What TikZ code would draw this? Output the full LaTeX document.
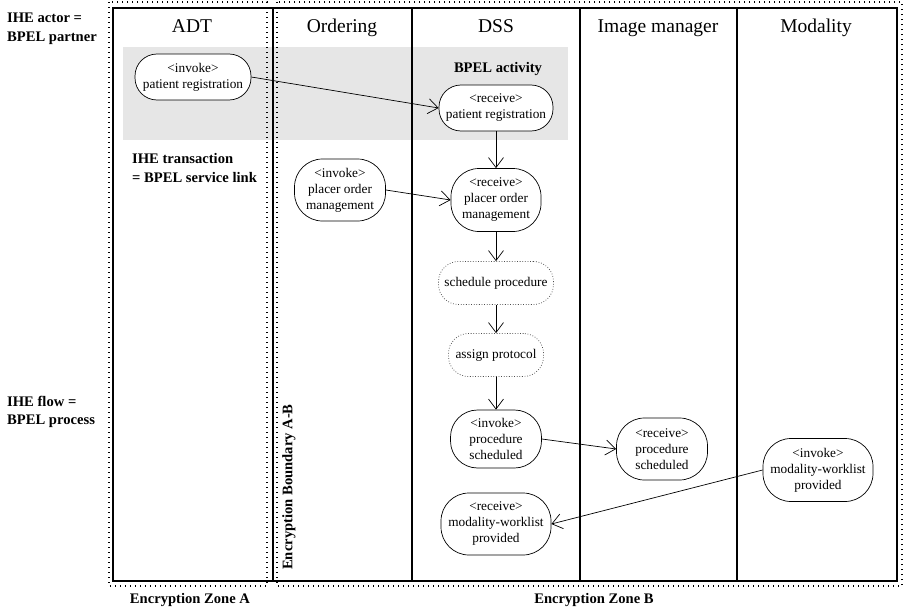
\documentclass[tikz,border=0pt]{standalone}
\usepackage{fontspec}
\setmainfont{Liberation Serif}
\usetikzlibrary{arrows.meta}
\definecolor{bandgray}{RGB}{230,230,230}
\tikzset{
  lane/.style={line width=1.2pt},
  zone/.style={line width=1.1pt, dash pattern=on 1.1pt off 3.9pt},
  lanetitle/.style={font=\fontsize{19.5}{22}\selectfont, anchor=base, inner sep=0pt},
  boldlabel/.style={font=\bfseries\fontsize{14.6}{18.5}\selectfont, align=left, inner sep=0pt},
  actnode/.style={draw, line width=0.7pt, fill=white, align=center, inner sep=0pt,
    font=\fontsize{13.3}{16}\selectfont},
  dotnode/.style={actnode, dash pattern=on 0.8pt off 1.8pt, draw=black!70},
  arr/.style={line width=0.7pt, -{Straight Barb[length=10pt,width=15pt,line width=0.7pt]}}
}
\begin{document}
\begin{tikzpicture}[x=1pt,y=-1pt]
\useasboundingbox (0,0) rectangle (903,610);
% grey band
\fill[bandgray] (123,47) rectangle (568,140);
% lanes
\draw[lane] (113,8) rectangle (897,581);
\draw[lane] (273,8) -- (273,581);
\draw[lane] (412,8) -- (412,581);
\draw[lane] (580,8) -- (580,581);
\draw[lane] (737,8) -- (737,581);
% encryption zones
\draw[zone] (109,2) rectangle (267,586);
\draw[zone] (277,2) rectangle (902,586);
% lane titles
\node[lanetitle] (tADT) at (192,33) {ADT};
\node[lanetitle] (tOrd) at (342,33) {Ordering};
\node[lanetitle] (tDSS) at (496,33) {DSS};
\node[lanetitle] (tIM) at (658,33) {Image manager};
\node[lanetitle] (tMod) at (816,33) {Modality};
% side labels
\node[boldlabel, anchor=west] (lactor) at (7,29) {IHE actor =\\BPEL partner};
\node[boldlabel, anchor=west] (lflow) at (7,412) {IHE flow =\\BPEL process};
\node[boldlabel, anchor=west] (ltrans) at (132,168) {IHE transaction\\= BPEL service link};
\node[boldlabel, anchor=base] (lact) at (498,73) {BPEL activity};
\node[boldlabel, anchor=base] (lzoneA) at (190,603) {Encryption Zone A};
\node[boldlabel, anchor=base] (lzoneB) at (594,603) {Encryption Zone B};
\node[boldlabel, rotate=90] (lbound) at (289,487) {Encryption Boundary A-B};
% activity nodes
\node[actnode, minimum width=116pt, minimum height=46pt, rounded corners=22pt] (n1) at (193,77) {<invoke>\\patient registration};
\node[actnode, minimum width=114pt, minimum height=46pt, rounded corners=22pt] (n2) at (496,108) {<receive>\\patient registration};
\node[actnode, minimum width=91pt, minimum height=62pt, rounded corners=28pt] (n3) at (340,190) {<invoke>\\placer order\\management};
\node[actnode, minimum width=90pt, minimum height=63pt, rounded corners=28pt] (n4) at (496,200) {<receive>\\placer order\\management};
\node[dotnode, minimum width=115pt, minimum height=43pt, rounded corners=20pt] (n5) at (496,283) {schedule procedure};
\node[dotnode, minimum width=95pt, minimum height=43pt, rounded corners=20pt] (n6) at (496,355) {assign protocol};
\node[actnode, minimum width=91pt, minimum height=58pt, rounded corners=27pt] (n7) at (496,439) {<invoke>\\procedure\\scheduled};
\node[actnode, minimum width=91pt, minimum height=62pt, rounded corners=28pt] (n8) at (662,449) {<receive>\\procedure\\scheduled};
\node[actnode, minimum width=110pt, minimum height=62pt, rounded corners=28pt] (n9) at (496,524) {<receive>\\modality-worklist\\provided};
\node[actnode, minimum width=110pt, minimum height=63pt, rounded corners=28pt] (n10) at (818,470) {<invoke>\\modality-worklist\\provided};
% connectors
\draw[arr] (n1.east) -- (n2.west);
\draw[arr] (n2.south) -- (n4.north);
\draw[arr] (n3.east) -- (n4.west);
\draw[arr] (n4.south) -- (n5.north);
\draw[arr] (n5.south) -- (n6.north);
\draw[arr] (n6.south) -- (n7.north);
\draw[arr] (n7.east) -- (n8.west);
\draw[arr] (n10.west) -- (n9.east);
\end{tikzpicture}
\end{document}
